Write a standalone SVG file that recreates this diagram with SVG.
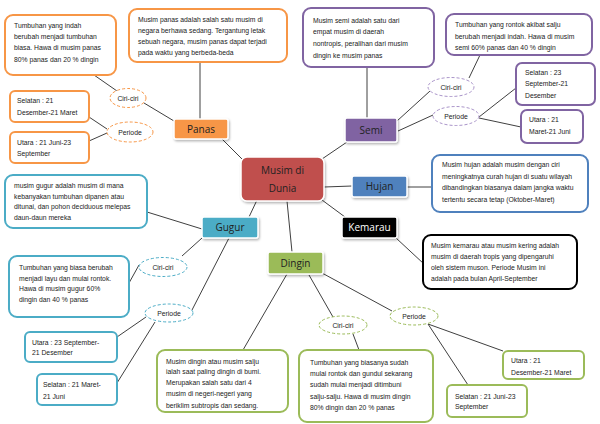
<svg xmlns="http://www.w3.org/2000/svg" width="600" height="424" viewBox="0 0 600 424">
<style>
.bg{fill:#fff}
.c line{stroke:#404040;stroke-width:1}
.box{fill:#fff;stroke-width:2}
.t{font-family:"Liberation Sans",Arial,sans-serif;font-size:6.8px;fill:#222}
.lbl{font-family:"Open Sans","Liberation Sans",sans-serif;font-size:10px;fill:#222;text-anchor:middle}
.node{stroke:#fff;stroke-width:1.5;filter:url(#sh)}
.el{fill:#fff;stroke-width:1;stroke-dasharray:3 2}
.et{font-family:"Liberation Sans",Arial,sans-serif;font-size:6.8px;fill:#222;text-anchor:middle}
.or{stroke:#F79646}.pu{stroke:#8064A2}.bl{stroke:#4F81BD}.bk{stroke:#000}.cy{stroke:#4BACC6}.gr{stroke:#9BBB59}
.pul{stroke:#A993C9}
</style>
<defs>
<filter id="sh" x="-20%" y="-20%" width="140%" height="150%">
<feDropShadow dx="1" dy="1.5" stdDeviation="1" flood-color="#000" flood-opacity="0.3"/>
</filter>
</defs>
<rect class="bg" width="600" height="424"/>
<g id="connectors" class="c">
<line x1="200" y1="62" x2="200" y2="119"/>
<line x1="94" y1="75" x2="117" y2="91"/>
<line x1="144" y1="103" x2="174" y2="121"/>
<line x1="107" y1="129" x2="89" y2="117"/>
<line x1="107" y1="133" x2="89" y2="141"/>
<line x1="222" y1="139" x2="243" y2="160"/>
<line x1="367" y1="67" x2="367" y2="118"/>
<line x1="397" y1="121" x2="430" y2="91"/>
<line x1="398" y1="131" x2="433" y2="115"/>
<line x1="469" y1="78" x2="480" y2="55"/>
<line x1="479" y1="117" x2="516" y2="88"/>
<line x1="479" y1="118" x2="521" y2="127"/>
<line x1="347" y1="142" x2="322" y2="159"/>
<line x1="324" y1="187" x2="352" y2="186"/>
<line x1="407" y1="187" x2="432" y2="187"/>
<line x1="322" y1="200" x2="345" y2="217"/>
<line x1="396" y1="238" x2="424" y2="264"/>
<line x1="257" y1="200" x2="249" y2="217"/>
<line x1="147" y1="212" x2="202" y2="229"/>
<line x1="202" y1="238" x2="182" y2="256"/>
<line x1="139" y1="265" x2="129" y2="283"/>
<line x1="229" y1="238" x2="192" y2="310"/>
<line x1="146" y1="317" x2="117" y2="337"/>
<line x1="155" y1="322" x2="117" y2="383"/>
<line x1="287" y1="201" x2="292" y2="252"/>
<line x1="287" y1="274" x2="243" y2="350"/>
<line x1="309" y1="275" x2="333" y2="317"/>
<line x1="322" y1="273" x2="392" y2="311"/>
<line x1="353" y1="334" x2="359" y2="350"/>
<line x1="428" y1="324" x2="503" y2="351"/>
<line x1="428" y1="324" x2="468" y2="385"/>
</g>

<g id="center">
<rect class="node" x="241" y="157" width="83" height="44" rx="6" fill="#C0504D"/>
<text class="lbl" x="282.5" y="174" font-size="13">Musim di</text>
<text class="lbl" x="282.5" y="192" font-size="13">Dunia</text>
</g>

<g id="panas">
<rect class="node" x="174" y="119" width="54" height="20" rx="2" fill="#F79646"/>
<text class="lbl" x="201" y="132.5">Panas</text>
</g>
<g id="panas-desc">
<rect class="box or" x="129" y="9" width="158" height="53" rx="8"/>
<text class="t" x="138" y="22">Musim panas adalah salah satu musim di</text>
<text class="t" x="138" y="33">negara berhawa sedang. Tergantung letak</text>
<text class="t" x="138" y="44">sebuah negara, musim panas dapat terjadi</text>
<text class="t" x="138" y="55">pada waktu yang berbeda-beda</text>
</g>
<g id="panas-ciri-box">
<rect class="box or" x="5" y="15" width="111" height="60" rx="8"/>
<text class="t" x="14" y="28">Tumbuhan yang indah</text>
<text class="t" x="14" y="39">berubah menjadi tumbuhan</text>
<text class="t" x="14" y="50">biasa. Hawa di musim panas</text>
<text class="t" x="14" y="62">80% panas dan 20 % dingin</text>
</g>
<g id="panas-ciri">
<ellipse class="el or" cx="128" cy="98" rx="18" ry="9.5"/>
<text class="et" x="128" y="100.5">Ciri-ciri</text>
</g>
<g id="panas-periode">
<ellipse class="el or" cx="130" cy="132" rx="23" ry="10"/>
<text class="et" x="130" y="134.5">Periode</text>
</g>
<g id="panas-selatan">
<rect class="box or" x="10" y="91" width="79" height="31" rx="5"/>
<text class="t" x="17" y="103">Selatan : 21</text>
<text class="t" x="17" y="115">Desember-21 Maret</text>
</g>
<g id="panas-utara">
<rect class="box or" x="10" y="132" width="79" height="31" rx="5"/>
<text class="t" x="17" y="145">Utara : 21 Juni-23</text>
<text class="t" x="17" y="156">September</text>
</g>

<g id="semi">
<rect class="node" x="345" y="118" width="52" height="24" rx="2" fill="#8064A2"/>
<text class="lbl" x="371" y="133.5">Semi</text>
</g>
<g id="semi-desc">
<rect class="box pu" x="303" y="8" width="131" height="59" rx="8"/>
<text class="t" x="313" y="23">Musim semi adalah satu dari</text>
<text class="t" x="313" y="34">empat musim di daerah</text>
<text class="t" x="313" y="46">nontropis, peralihan dari musim</text>
<text class="t" x="313" y="58">dingin ke musim panas</text>
</g>
<g id="semi-ciri-box">
<rect class="box pu" x="446" y="14" width="146" height="41" rx="8"/>
<text class="t" x="455" y="27">Tumbuhan yang rontok akibat salju</text>
<text class="t" x="455" y="39">berubah menjadi indah. Hawa di musim</text>
<text class="t" x="455" y="50">semi 60% panas dan 40 % dingin</text>
</g>
<g id="semi-ciri">
<ellipse class="el pul" cx="451" cy="87" rx="23" ry="9.5"/>
<text class="et" x="451" y="89.5">Ciri-ciri</text>
</g>
<g id="semi-periode">
<ellipse class="el pul" cx="456" cy="116" rx="23" ry="9.5"/>
<text class="et" x="456" y="118.5">Periode</text>
</g>
<g id="semi-selatan">
<rect class="box pu" x="516" y="63" width="79" height="42" rx="6"/>
<text class="t" x="525" y="75">Selatan : 23</text>
<text class="t" x="525" y="86">September-21</text>
<text class="t" x="525" y="98">Desember</text>
</g>
<g id="semi-utara">
<rect class="box pu" x="521" y="110" width="62" height="33" rx="6"/>
<text class="t" x="529" y="122">Utara : 21</text>
<text class="t" x="529" y="134">Maret-21 Juni</text>
</g>

<g id="hujan">
<rect class="node" x="352" y="176" width="55" height="21" rx="2" fill="#4F81BD"/>
<text class="lbl" x="379.5" y="190">Hujan</text>
</g>
<g id="hujan-desc">
<rect class="box bl" x="432" y="155" width="156" height="57" rx="8"/>
<text class="t" x="442" y="167">Musim hujan adalah musim dengan ciri</text>
<text class="t" x="442" y="179">meningkatnya curah hujan di suatu wilayah</text>
<text class="t" x="442" y="190">dibandingkan biasanya dalam jangka waktu</text>
<text class="t" x="442" y="202">tertentu secara tetap (Oktober-Maret)</text>
</g>

<g id="kemarau">
<rect class="node" x="342" y="217" width="55" height="21" rx="2" fill="#000"/>
<text class="lbl" x="369.5" y="231" style="fill:#fff">Kemarau</text>
</g>
<g id="kemarau-desc">
<rect class="box bk" x="423" y="235" width="154" height="54" rx="8"/>
<text class="t" x="431" y="248">Musim kemarau atau musim kering adalah</text>
<text class="t" x="431" y="259">musim di daerah tropis yang dipengaruhi</text>
<text class="t" x="431" y="270">oleh sistem muson. Periode Musim ini</text>
<text class="t" x="431" y="281">adalah pada bulan April-September</text>
</g>

<g id="gugur">
<rect class="node" x="202" y="217" width="56" height="21" rx="2" fill="#4BACC6"/>
<text class="lbl" x="230" y="231">Gugur</text>
</g>
<g id="gugur-desc">
<rect class="box cy" x="5" y="175" width="142" height="53" rx="8"/>
<text class="t" x="14" y="188">musim gugur adalah musim di mana</text>
<text class="t" x="14" y="199">kebanyakan tumbuhan dipanen atau</text>
<text class="t" x="14" y="209">ditunai, dan pohon deciduous melepas</text>
<text class="t" x="14" y="220">daun-daun mereka</text>
</g>
<g id="gugur-ciri-box">
<rect class="box cy" x="9" y="256" width="120" height="61" rx="8"/>
<text class="t" x="19" y="270">Tumbuhan yang biasa berubah</text>
<text class="t" x="19" y="281">menjadi layu dan mulai rontok.</text>
<text class="t" x="19" y="291">Hawa di musim gugur 60%</text>
<text class="t" x="19" y="302">dingin dan 40 % panas</text>
</g>
<g id="gugur-ciri">
<ellipse class="el cy" cx="163" cy="267" rx="24" ry="9.5"/>
<text class="et" x="163" y="269.5">Ciri-ciri</text>
</g>
<g id="gugur-periode">
<ellipse class="el cy" cx="169" cy="313" rx="24" ry="9"/>
<text class="et" x="169" y="315.5">Periode</text>
</g>
<g id="gugur-utara">
<rect class="box cy" x="25" y="332" width="92" height="30" rx="5"/>
<text class="t" x="32" y="345">Utara : 23 September-</text>
<text class="t" x="32" y="355">21 Desember</text>
</g>
<g id="gugur-selatan">
<rect class="box cy" x="37" y="374" width="80" height="31" rx="5"/>
<text class="t" x="43" y="387">Selatan : 21 Maret-</text>
<text class="t" x="43" y="399">21 Juni</text>
</g>

<g id="dingin">
<rect class="node" x="268" y="252" width="55" height="22" rx="2" fill="#9BBB59"/>
<text class="lbl" x="295.5" y="266.5">Dingin</text>
</g>
<g id="dingin-desc">
<rect class="box gr" x="157" y="350" width="131" height="62" rx="8"/>
<text class="t" x="166" y="364">Musim dingin atau musim salju</text>
<text class="t" x="166" y="374">ialah saat paling dingin di bumi.</text>
<text class="t" x="166" y="385">Merupakan salah satu dari 4</text>
<text class="t" x="166" y="396">musim di negeri-negeri yang</text>
<text class="t" x="166" y="408">beriklim subtropis dan sedang.</text>
</g>
<g id="dingin-ciri">
<ellipse class="el gr" cx="343" cy="325" rx="24" ry="9"/>
<text class="et" x="343" y="327.5">Ciri-ciri</text>
</g>
<g id="dingin-periode">
<ellipse class="el gr" cx="414" cy="316" rx="24" ry="9"/>
<text class="et" x="414" y="318.5">Periode</text>
</g>
<g id="dingin-ciri-box">
<rect class="box gr" x="299" y="350" width="134" height="72" rx="8"/>
<text class="t" x="310" y="365">Tumbuhan yang biasanya sudah</text>
<text class="t" x="310" y="376">mulai rontok dan gundul sekarang</text>
<text class="t" x="310" y="387">sudah mulai menjadi ditimbuni</text>
<text class="t" x="310" y="399">salju-salju. Hawa di musim dingin</text>
<text class="t" x="310" y="410">80% dingin dan 20 % panas</text>
</g>
<g id="dingin-utara">
<rect class="box gr" x="503" y="351" width="81" height="28" rx="5"/>
<text class="t" x="511" y="363">Utara : 21</text>
<text class="t" x="511" y="375">Desember-21 Maret</text>
</g>
<g id="dingin-selatan">
<rect class="box gr" x="447" y="385" width="80" height="32" rx="5"/>
<text class="t" x="455" y="399">Selatan : 21 Juni-23</text>
<text class="t" x="455" y="409">September</text>
</g>
</svg>
